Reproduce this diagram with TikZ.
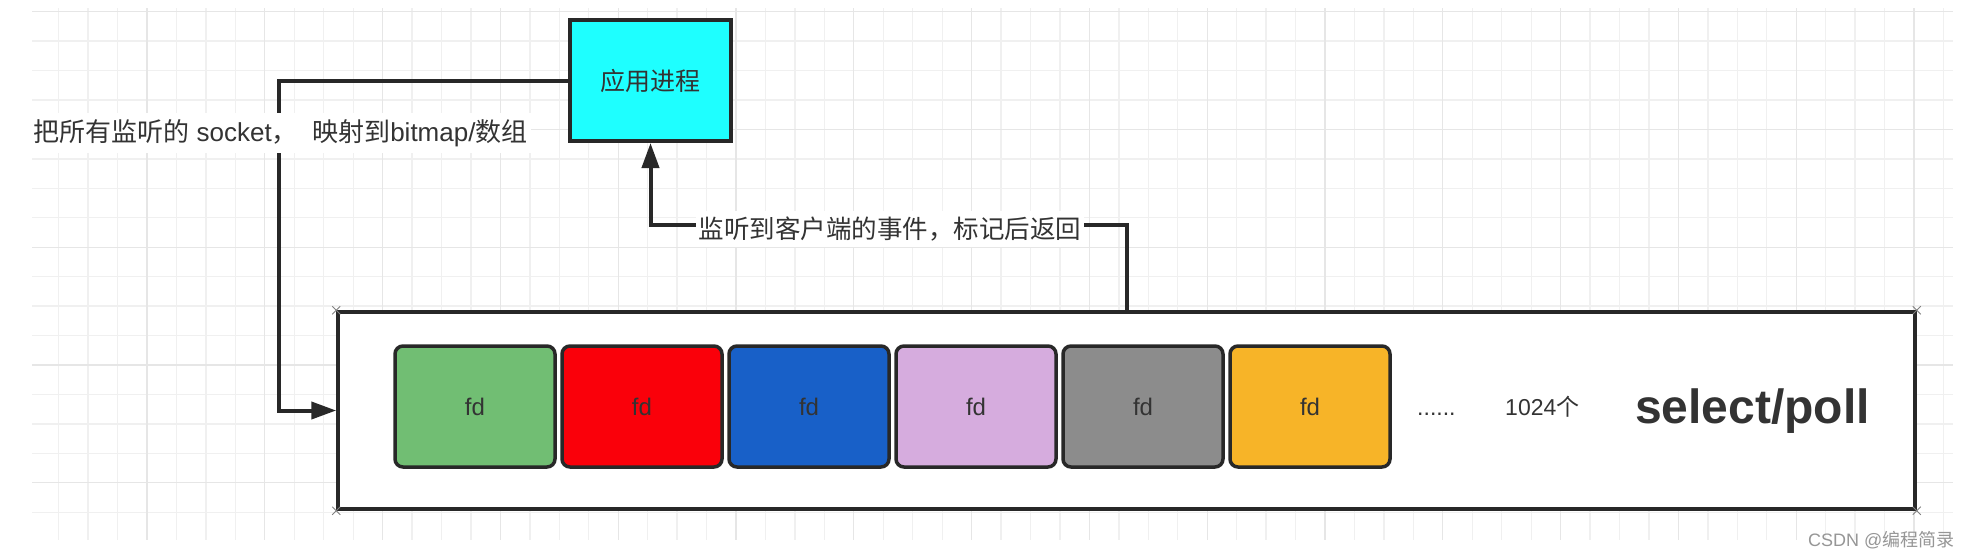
\documentclass[tikz,border=0pt]{standalone}
\usepackage{fontspec}
\setmainfont{Liberation Sans}
\newfontfamily\cjk{Noto Sans CJK SC}
\usetikzlibrary{arrows.meta}
\definecolor{cyanfill}{RGB}{30,255,255}
\definecolor{fdgreen}{RGB}{113,190,115}
\definecolor{fdred}{RGB}{250,0,10}
\definecolor{fdblue}{RGB}{24,96,200}
\definecolor{fdpurple}{RGB}{214,172,222}
\definecolor{fdgray}{RGB}{140,140,140}
\definecolor{fdorange}{RGB}{247,180,40}
\definecolor{edgec}{RGB}{40,40,40}
\definecolor{textc}{RGB}{51,51,51}
\definecolor{gridminor}{RGB}{240,240,240}
\definecolor{gridmajor}{RGB}{230,230,230}
\definecolor{wmark}{RGB}{150,150,150}
\begin{document}
\begin{tikzpicture}[x=1pt,y=-1pt,
  gridline/.style={draw=gridminor,line width=1.3pt},
  gridbold/.style={draw=gridmajor,line width=1.3pt},
  appbox/.style={draw=edgec,line width=4pt,fill=cyanfill,minimum width=161pt,minimum height=121pt,inner sep=0pt,text=textc,font=\fontsize{25}{30}\selectfont},
  bigbox/.style={draw=edgec,line width=3.5pt,fill=white,minimum width=1577pt,minimum height=197pt,inner sep=0pt},
  fdbox/.style={draw=edgec,line width=3.5pt,rounded corners=8pt,minimum width=160pt,minimum height=121pt,inner sep=0pt,text=textc,font=\fontsize{24}{28}\selectfont},
  conn/.style={draw=edgec,line width=4pt,line join=miter},
  tip/.style={-{Triangle[length=25pt,width=17pt]}},
  elabel/.style={fill=white,inner xsep=3pt,inner ysep=6pt,text=textc},
  plain/.style={inner sep=0pt,text=textc},
  cornermark/.style={draw=gray,line width=1pt}
]
\useasboundingbox (0,0) rectangle (1974,558);
\fill[white] (0,0) rectangle (1974,558);
% grid
\foreach \k in {-3,...,61} {
  \pgfmathsetmacro\xx{147+29.45*\k}
  \draw[gridline] (\xx,8) -- (\xx,540);
}
\foreach \k in {-12,...,5} {
  \pgfmathsetmacro\yy{365+29.45*\k}
  \draw[gridline] (32,\yy) -- (1953,\yy);
}
\foreach \k in {0,4,...,60} {
  \pgfmathsetmacro\xx{147+29.45*\k}
  \draw[gridbold] (\xx,8) -- (\xx,540);
}
\foreach \k in {-12,-8,-4,0,4} {
  \pgfmathsetmacro\yy{365+29.45*\k}
  \draw[gridbold] (32,\yy) -- (1953,\yy);
}
% boxes
\node[bigbox] (big) at (1126.5,410.5) {};
\node[appbox] (app) at (650.5,80.5) {\cjk 应用进程};
\foreach \c [count=\i from 0] in {fdgreen,fdred,fdblue,fdpurple,fdgray,fdorange}
  \node[fdbox,fill=\c] (fd\i) at ({475+167*\i},406.5) {fd};
\node[plain,anchor=base west,font=\fontsize{23}{28}\selectfont] (dots) at (1417,415) {......};
\node[plain,anchor=base west,font=\fontsize{23}{28}\selectfont] (cnt) at (1505,415) {1024{\cjk 个}};
\node[plain,anchor=base west,font=\fontsize{48}{56}\selectfont\bfseries] (sel) at (1635,423) {select/poll};
% corner marks
\foreach \a in {north west,north east,south west,south east}
  \draw[cornermark] ([shift={(-4,-4)}]big.\a) -- ([shift={(4,4)}]big.\a)
                    ([shift={(-4,4)}]big.\a) -- ([shift={(4,-4)}]big.\a);
% connectors
\coordinate (lc) at (279,80.5);
\draw[conn,tip] (app.west) -- (lc) |- (big.west);
\coordinate (rc) at (1126.5,225);
\draw[conn,tip] (big.north) -- (rc) -| (app.south);
% labels
\node[elabel,font=\fontsize{26}{31}\selectfont] (l1) at (280.5,133) {{\cjk 把所有监听的} socket{\cjk ，}\ \ {\cjk 映射到}bitmap/{\cjk 数组}};
\node[elabel,font=\fontsize{25.5}{30}\selectfont] (l2) at (890,229) {\cjk 监听到客户端的事件，标记后返回};
% watermark
\node[inner sep=0pt,anchor=base west,text=wmark,font=\fontsize{18}{22}\selectfont] (wm) at (1808,546) {CSDN @{\cjk 编程简录}};
\end{tikzpicture}
\end{document}
